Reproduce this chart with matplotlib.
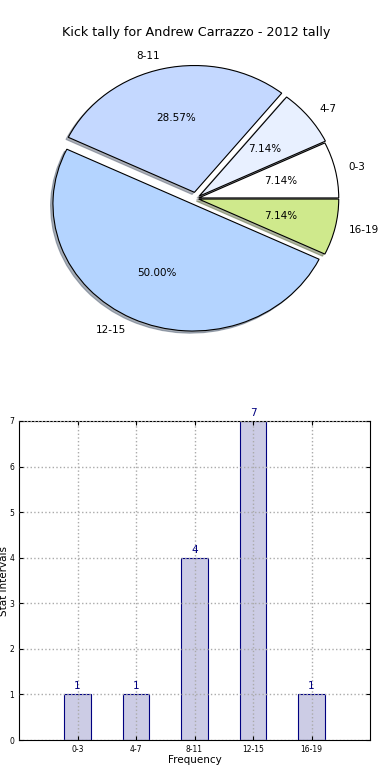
import matplotlib
matplotlib.use("Agg")
from matplotlib import pyplot as plt

# tally data
intervals = ['0-3', '4-7', '8-11', '12-15', '16-19']
kicks = [1, 1, 4, 7, 1]
pie_colors = ['#ffffff', '#e8f0ff', '#c4d8ff', '#b4d4ff', '#cfe98c']
explode = [0.02, 0.03, 0.05, 0.05, 0.02]

fig = plt.figure(figsize=(3.9, 7.8), dpi=100)

# pie on top
pie_ax = fig.add_axes([21/390, 1 - 357/780, 350/390, 317/780])
wedges, texts, autotexts = pie_ax.pie(kicks, labels=intervals, colors=pie_colors,
                                      explode=explode, autopct='%1.2f%%',
                                      shadow={'ox': -0.012, 'oy': -0.012, 'shade': 0.55},
                                      wedgeprops={'edgecolor': 'black', 'linewidth': 0.8},
                                      textprops={'fontsize': 7.5})
pie_ax.set_aspect('auto')
pie_ax.set_xlim(-1.25, 1.25)
pie_ax.set_ylim(-1.25, 1.25)
pie_ax.set_title('Kick tally for Andrew Carrazzo - 2012 tally', fontsize=9.2, pad=3)

# bar chart below
bar_ax = fig.add_axes([19/390, 40/780, 351/390, 319/780])
pos = list(range(len(intervals)))
bars = bar_ax.bar(pos, kicks, width=0.45, facecolor=(0, 0, 0.5, 0.2),
                  edgecolor='navy', linewidth=0.8)
for p, k in zip(pos, kicks):
    bar_ax.text(p, k + 0.07, str(k), ha='center', va='bottom', color='navy', fontsize=7.5)

bar_ax.set_xlim(-1, 5)
bar_ax.set_ylim(0, 7)
bar_ax.set_xticks(pos)
bar_ax.set_xticklabels(intervals)
bar_ax.set_yticks(range(8))
bar_ax.tick_params(direction='in', labelsize=5.5, length=3, top=True, right=True)
bar_ax.set_axisbelow(False)
bar_ax.grid(True, linestyle=':', color='#aaaaaa', linewidth=1)
bar_ax.set_xlabel('Frequency', fontsize=7.5, labelpad=1)
bar_ax.set_ylabel('Stat Intervals', fontsize=7.5, labelpad=0.5)

fig.savefig('out.png', dpi=100)
